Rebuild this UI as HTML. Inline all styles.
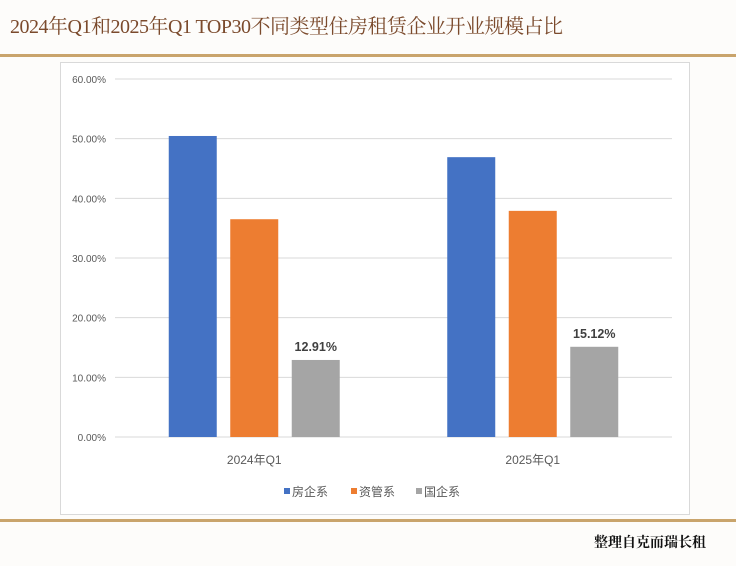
<!DOCTYPE html>
<html><head><meta charset="utf-8"><style>
body{margin:0;width:736px;height:566px;background:#fdfcfa;position:relative;overflow:hidden;font-family:"Liberation Sans","Noto Sans CJK SC",sans-serif}
.title{position:absolute;left:10px;top:10px;font-family:"Liberation Serif","Noto Serif CJK SC",serif;font-size:20px;color:#7b4a2c;letter-spacing:-0.5px}
.line{position:absolute;left:0;width:736px;height:3px;background:#c9a46c}
.box{position:absolute;left:60px;top:62px;width:628px;height:451px;border:1px solid #d9d9d9;background:#fff}
.foot{position:absolute;left:594px;top:532px;font-family:"Liberation Serif","Noto Serif CJK SC",serif;font-weight:bold;font-size:14px;color:#111}
</style></head><body>
<div class="title">2024年Q1和2025年Q1 TOP30不同类型住房租赁企业开业规模占比</div>
<div class="line" style="top:54px"></div>
<div class="box"></div>
<div class="line" style="top:519px"></div>
<div class="foot">整理自克而瑞长租</div>
<svg id="chart" width="736" height="566" style="position:absolute;left:0;top:0"></svg>
<script>
const categories=["2024年Q1","2025年Q1"];
const seriesNames=["房企系","资管系","国企系"];
const fangqi=[50.45,46.9];
const ziguan=[36.5,37.9];
const guoqi=[12.91,15.12];
const labels=["12.91%","15.12%"];
const ticks=[0,10,20,30,40,50,60];
const colors=["#4472c4","#ed7d31","#a5a5a5"];
const NS="http://www.w3.org/2000/svg";
const svg=document.getElementById('chart');
const x0=115,x1=672,y0=437,y60=79;
const y=v=>y0-(v/60)*(y0-y60);
const catW=(x1-x0)/categories.length;
const cx=i=>x0+catW*(i+0.5);
function mk(t,a,txt){const e=document.createElementNS(NS,t);for(const k in a)e.setAttribute(k,a[k]);if(txt!==undefined)e.textContent=txt;svg.appendChild(e);return e;}
ticks.forEach(t=>{
  const g=mk('line',{x1:x0,x2:x1,y1:y(t),y2:y(t),stroke:'#d9d9d9','stroke-width':1});
  
  
  const l=mk('text',{x:106,y:y(t)+4,'text-anchor':'end','font-size':10,fill:'#595959'},t.toFixed(2)+'%');
  
  
});
const series=[fangqi,ziguan,guoqi];
const bw=48,pitch=61.5;
categories.forEach((c,i)=>{
  series.forEach((s,j)=>{
    const bx=cx(i)+(j-1)*pitch-bw/2;
    const r=mk('rect',{x:bx,y:y(s[i]),width:bw,height:y0-y(s[i]),fill:colors[j]});
    
    
    if(j===2){
      const t=mk('text',{x:bx+bw/2,y:y(s[i])-9,'text-anchor':'middle','font-size':12.5,'font-weight':'bold',fill:'#404040'},labels[i]);
      
      
    }
  });
  const cl=mk('text',{x:cx(i),y:464,'text-anchor':'middle','font-size':12,fill:'#595959'},c);
  
  
});
const lx=[284,351,416];
seriesNames.forEach((n,j)=>{
  const r=mk('rect',{x:lx[j],y:488,width:6,height:6,fill:colors[j]});
  
  
  const t=mk('text',{x:lx[j]+8,y:496,'font-size':12,fill:'#595959'},n);
  
  
});
</script>
</body></html>
